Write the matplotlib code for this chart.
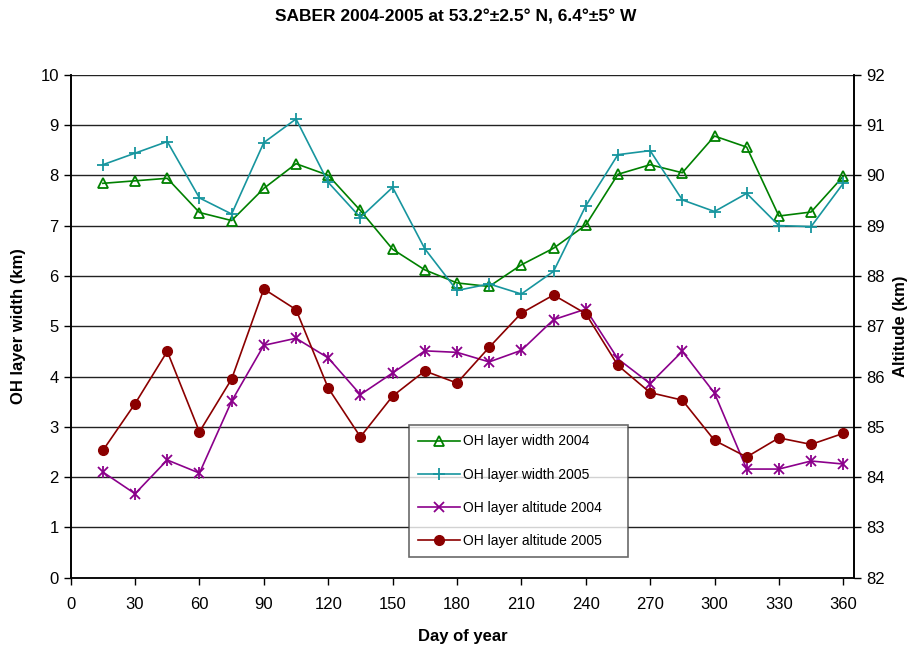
import numpy as np
import matplotlib.pyplot as plt

plt.rcParams['font.family'] = ['Liberation Sans', 'DejaVu Sans']

# dia del año (puntos cada 15 dias)
dias = [15, 30, 45, 60, 75, 90, 105, 120, 135, 150, 165, 180,
        195, 210, 225, 240, 255, 270, 285, 300, 315, 330, 345, 360]

# anchura de la capa OH (km)
ancho_2004 = [7.84, 7.89, 7.94, 7.26, 7.10, 7.74, 8.23, 8.00, 7.30, 6.53, 6.12, 5.86,
              5.79, 6.22, 6.55, 7.01, 8.02, 8.21, 8.05, 8.78, 8.56, 7.19, 7.27, 7.98]
ancho_2005 = [8.21, 8.44, 8.67, 7.55, 7.23, 8.65, 9.12, 7.86, 7.16, 7.76, 6.54, 5.71,
              5.84, 5.64, 6.09, 7.39, 8.41, 8.49, 7.51, 7.28, 7.64, 7.00, 6.98, 7.84]

# altitud de la capa OH (km)
altitud_2004 = [84.10, 83.67, 84.34, 84.08, 85.51, 86.62, 86.76, 86.37, 85.64, 86.07, 86.51, 86.48,
                86.29, 86.52, 87.13, 87.34, 86.35, 85.86, 86.50, 85.67, 84.16, 84.16, 84.32, 84.26]
altitud_2005 = [84.53, 85.46, 86.50, 84.90, 85.95, 87.74, 87.33, 85.77, 84.80, 85.61, 86.11, 85.87,
                86.58, 87.26, 87.62, 87.25, 86.22, 85.68, 85.53, 84.73, 84.40, 84.78, 84.65, 84.87]

fig = plt.figure(figsize=(9.12, 6.46), dpi=100)
ax = fig.add_axes([0.0775, 0.1057, 0.8589, 0.7787])
ax2 = ax.twinx()

l1, = ax.plot(dias, ancho_2004, color='#008000', lw=1.2, marker='^', ms=6.5,
              mfc='none', mec='#008000', mew=1.3, label='OH layer width 2004')
l2, = ax.plot(dias, ancho_2005, color='#17959e', lw=1.2, marker='+', ms=9,
              mew=1.3, label='OH layer width 2005')
l3, = ax2.plot(dias, altitud_2004, color='#8b008b', lw=1.2, marker='x', ms=7,
               mew=1.3, label='OH layer altitude 2004')
ax2.plot(dias, altitud_2004, ls='none', marker='|', ms=8, mew=1.3, color='#8b008b')
l4, = ax2.plot(dias, altitud_2005, color='#8b0000', lw=1.2, marker='o', ms=7,
               label='OH layer altitude 2005')

ax.set_xlim(0, 365)
ax.set_ylim(0, 10)
ax2.set_ylim(82, 92)
ax.set_xticks(np.arange(0, 361, 30))
ax.set_yticks(np.arange(0, 11, 1))
ax2.set_yticks(np.arange(82, 93, 1))

ax.yaxis.grid(True, color='#222222', lw=1.0)
ax.set_axisbelow(True)

for a in (ax, ax2):
    a.tick_params(direction='out', length=5, width=1, labelsize=12)
    for s in a.spines.values():
        s.set_linewidth(1.2)
ax.spines['top'].set_visible(False)
ax2.spines['top'].set_visible(False)
ax.spines['bottom'].set_color('#555555')
ax.tick_params(axis='x', pad=9)

ax.set_xlabel('Day of year', fontsize=12, fontweight='bold', labelpad=12)
ax.set_ylabel('OH layer width (km)', fontsize=12, fontweight='bold', labelpad=10)
ax2.set_ylabel('Altitude (km)', fontsize=12, fontweight='bold', labelpad=6)
fig.suptitle('SABER 2004-2005 at 53.2°±2.5° N, 6.4°±5° W', fontsize=12.5,
             fontweight='bold', y=0.985)

leg = ax2.legend(handles=[l1, l2, l3, l4], loc='lower left',
                 bbox_to_anchor=(0.432, 0.042, 0.279, 0.26), mode='expand',
                 borderaxespad=0, fontsize=10, frameon=True, fancybox=False,
                 edgecolor='#444444', labelspacing=1.37, handlelength=3.0,
                 handletextpad=0.25, borderpad=0.65)
leg.get_frame().set_linewidth(1.2)

fig.savefig('out.png', dpi=100)
